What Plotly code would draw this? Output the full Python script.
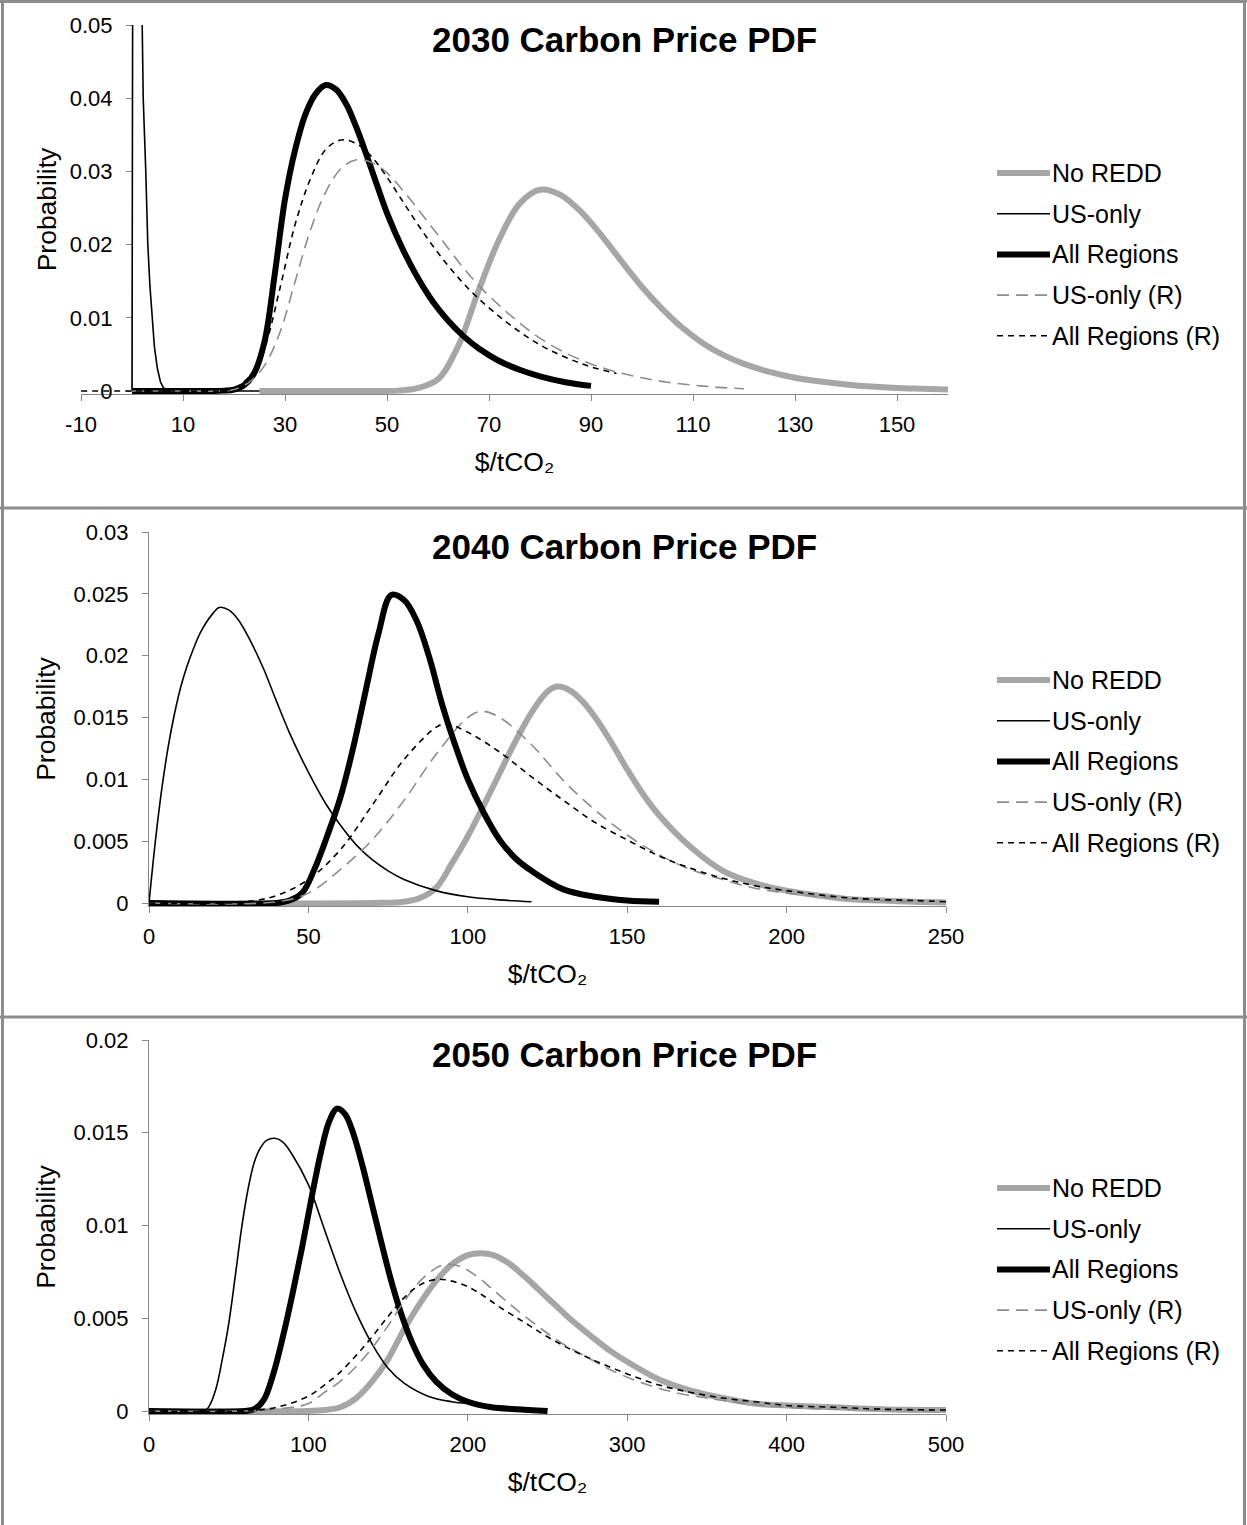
import plotly.graph_objects as go

W, H = 1247, 1525
FONT = "Liberation Sans, Arial, Helvetica, sans-serif"

# ---------------- 2030 ($/tCO2 vs probability) ----------------
x30_noredd = [25, 30, 35, 40, 44, 48, 52, 56, 60, 64, 68, 72, 76, 80, 84, 88, 92, 96, 100, 104, 108, 112, 116, 120,
              125, 130, 135, 140, 145, 150, 155, 160]
y30_noredd = [0, 0, 0, 0, 0, 0, 0.00005, 0.0004, 0.0016, 0.0062, 0.0138, 0.0207, 0.0256, 0.0275, 0.0268, 0.0245,
              0.0213, 0.0177, 0.0142, 0.0112, 0.0086, 0.0065, 0.0049, 0.0037, 0.0026, 0.0018, 0.0013, 0.0009, 0.0006,
              0.0004, 0.0003, 0.0002]
x30_us = [0, 0.6, 2.0, 2.2, 2.7, 3.1, 3.5, 3.9, 4.4, 5.0, 5.6, 6.2, 7, 8, 25]
y30_us = [0, 0.25, 0.050, 0.040, 0.030, 0.020, 0.0145, 0.0100, 0.0060, 0.0030, 0.0012, 0.0004, 0.0001, 0, 0]
x30_all = [0, 10, 16, 18, 20, 22, 24, 26, 28, 30, 32, 34, 36, 38, 40, 42, 44, 46, 48, 50, 53, 56, 59, 62, 65, 68, 72,
           76, 80, 85, 90]
y30_all = [0, 0, 0, 0.00005, 0.0002, 0.0008, 0.0025, 0.0068, 0.0160, 0.0262, 0.0330, 0.0378, 0.0406, 0.0418, 0.0412,
           0.0392, 0.0360, 0.0322, 0.0282, 0.0243, 0.0195, 0.0155, 0.0122, 0.0096, 0.0075, 0.0058, 0.0041, 0.0029,
           0.0020, 0.0012, 0.0007]
x30_usr = [0, 10, 17, 20, 23, 26, 29, 32, 35, 38, 41, 44, 47, 50, 53, 56, 59, 62, 65, 68, 72, 76, 80, 85, 90, 95, 100,
           105, 110, 115, 120]
y30_usr = [0, 0, 0, 0.0002, 0.0012, 0.0035, 0.0080, 0.0150, 0.0220, 0.0272, 0.0304, 0.0316, 0.0312, 0.0298, 0.0275,
           0.0249, 0.0222, 0.0195, 0.0168, 0.0144, 0.0117, 0.0093, 0.0072, 0.0052, 0.0037, 0.0026, 0.0018, 0.0012,
           0.0008, 0.0005, 0.0003]
x30_allr = [-10, 0, 10, 17, 20, 23, 26, 29, 32, 35, 38, 41, 44, 47, 50, 53, 56, 59, 62, 65, 68, 72, 76, 80, 85, 90, 95]
y30_allr = [0, 0, 0, 0, 0.0004, 0.0020, 0.0060, 0.0140, 0.0228, 0.0290, 0.0330, 0.0343, 0.0338, 0.0320, 0.0292,
            0.0260, 0.0228, 0.0198, 0.0171, 0.0147, 0.0126, 0.0102, 0.0081, 0.0063, 0.0046, 0.0033, 0.0024]

# ---------------- 2040 ----------------
x40_noredd = [0, 70, 80, 85, 90, 95, 100, 105, 110, 115, 120, 125, 128, 132, 136, 140, 145, 150, 155, 160, 170, 180,
              190, 200, 210, 220, 230, 240, 250]
y40_noredd = [0, 0, 0.0001, 0.0004, 0.0012, 0.0032, 0.0054, 0.0079, 0.0105, 0.0131, 0.0154, 0.0171, 0.0175, 0.0172,
              0.0163, 0.0150, 0.0130, 0.0108, 0.0088, 0.0071, 0.0045, 0.0026, 0.0016, 0.0010, 0.0006, 0.0003, 0.0002,
              0.0001, 0.00005]
x40_us = [0, 2, 4, 6, 8, 10, 12, 14, 16, 18, 20, 22, 25, 28, 32, 36, 40, 44, 48, 52, 56, 60, 65, 70, 75, 80, 90, 100,
          110, 120]
y40_us = [0, 0.0050, 0.0092, 0.0126, 0.0153, 0.0175, 0.0192, 0.0206, 0.0218, 0.0227, 0.0234, 0.0239, 0.0237, 0.0229,
          0.0211, 0.0189, 0.0163, 0.0138, 0.0116, 0.0096, 0.0078, 0.0063, 0.0047, 0.0035, 0.0026, 0.0019, 0.0010,
          0.0005, 0.00025, 0.0001]
x40_all = [0, 40, 44, 48, 52, 56, 60, 64, 68, 72, 76, 80, 84, 88, 92, 96, 100, 105, 110, 115, 120, 130, 140, 150, 160]
y40_all = [0, 0, 0.0002, 0.0008, 0.0028, 0.0055, 0.0085, 0.0125, 0.0172, 0.0218, 0.0249, 0.0245, 0.0228, 0.0198,
           0.0160, 0.0128, 0.0100, 0.0073, 0.0051, 0.0036, 0.0026, 0.0011, 0.0005, 0.0002, 0.0001]
x40_usr = [0, 40, 50, 60, 70, 80, 90, 100, 104.5, 110, 120, 130, 140, 150, 160, 170, 180, 190, 200, 220, 240]
y40_usr = [0, 0.0001, 0.0008, 0.0027, 0.0051, 0.0083, 0.0120, 0.0150, 0.0155, 0.0150, 0.0128, 0.0099, 0.0075,
           0.0055, 0.0039, 0.0027, 0.0019, 0.0012, 0.0008, 0.0003, 0.0001]
x40_allr = [0, 30, 40, 50, 60, 70, 80, 90, 93, 100, 110, 120, 130, 140, 150, 160, 170, 180, 190, 200, 220, 240, 250]
y40_allr = [0, 0.0001, 0.0006, 0.0019, 0.0043, 0.0079, 0.0116, 0.0142, 0.0145, 0.0138, 0.0122, 0.0102, 0.0083,
            0.0065, 0.0051, 0.0038, 0.0028, 0.0020, 0.0014, 0.0010, 0.0004, 0.0002, 0.0001]

# ---------------- 2050 ----------------
x50_noredd = [0, 100, 110, 120, 130, 140, 150, 160, 170, 180, 190, 200, 208, 216, 225, 235, 245, 255, 265, 275, 290,
              305, 320, 340, 360, 380, 400, 430, 460, 500]
y50_noredd = [0, 0, 0.00005, 0.0002, 0.0007, 0.0016, 0.0028, 0.0044, 0.0058, 0.0070, 0.0079, 0.0084, 0.0085, 0.0084,
              0.0080, 0.0073, 0.0065, 0.0057, 0.0049, 0.0042, 0.0032, 0.0024, 0.0017, 0.0011, 0.0007, 0.0004,
              0.0003, 0.0002, 0.0001, 0.00005]
x50_us = [0, 30, 35, 38, 42, 46, 50, 54, 58, 62, 66, 70, 74, 79, 84, 90, 100, 110, 120, 130, 140, 150, 160, 175, 190,
          200, 220, 250]
y50_us = [0, 0, 0, 0.0003, 0.0012, 0.0028, 0.0047, 0.0072, 0.0098, 0.0119, 0.0134, 0.0142, 0.0146, 0.0147, 0.0145,
          0.0138, 0.0122, 0.0098, 0.0074, 0.0053, 0.0036, 0.0023, 0.0015, 0.0008, 0.0005, 0.0004, 0.0002, 0.0001]
x50_all = [0, 60, 66, 72, 78, 84, 90, 96, 102, 108, 113, 118, 123, 128, 134, 140, 146, 152, 158, 165, 172, 180, 190,
           200, 215, 230, 250]
y50_all = [0, 0, 0.0001, 0.0006, 0.0020, 0.0040, 0.0063, 0.0088, 0.0115, 0.0140, 0.0156, 0.0163, 0.0160, 0.0150,
           0.0132, 0.0111, 0.0090, 0.0070, 0.0053, 0.0037, 0.0025, 0.0016, 0.0009, 0.0005, 0.0002, 0.0001, 0]
x50_usr = [0, 60, 80, 100, 110, 120, 130, 140, 150, 160, 170, 180, 186, 195, 205, 215, 230, 245, 260, 275, 290, 310,
           330, 350, 375, 400, 430, 460, 500]
y50_usr = [0, 0, 0.0001, 0.0004, 0.0010, 0.0016, 0.0024, 0.0034, 0.0046, 0.0059, 0.0070, 0.0077, 0.0079, 0.0078,
           0.0073, 0.0066, 0.0055, 0.0045, 0.0036, 0.0029, 0.0022, 0.0015, 0.0010, 0.0007, 0.0004, 0.0002, 0.0001,
           0.00005, 0]
x50_allr = [0, 60, 80, 100, 110, 120, 130, 140, 150, 160, 170, 181, 190, 200, 210, 220, 235, 250, 265, 280, 300, 320,
            340, 360, 380, 400, 430, 460, 500]
y50_allr = [0, 0, 0.0002, 0.0008, 0.0014, 0.0021, 0.0030, 0.0040, 0.0051, 0.0061, 0.0068, 0.0071, 0.0070, 0.0067,
            0.0062, 0.0056, 0.0048, 0.0040, 0.0033, 0.0027, 0.0020, 0.0014, 0.0010, 0.0007, 0.0005, 0.0003, 0.0002,
            0.0001, 0.00005]

series_names = ["No REDD", "US-only", "All Regions", "US-only (R)", "All Regions (R)"]

x_ticks_2030 = [-10, 10, 30, 50, 70, 90, 110, 130, 150]
y_ticks_2030 = [0, 0.01, 0.02, 0.03, 0.04, 0.05]
x_ticks_2040 = [0, 50, 100, 150, 200, 250]
y_ticks_2040 = [0, 0.005, 0.01, 0.015, 0.02, 0.025, 0.03]
x_ticks_2050 = [0, 100, 200, 300, 400, 500]
y_ticks_2050 = [0, 0.005, 0.01, 0.015, 0.02]

# line look of each series (shared by all three panels and the legend keys)
STYLE = {
    "No REDD": dict(color="#A6A6A6", width=6, dash="solid"),
    "US-only": dict(color="#000000", width=1.6, dash="solid"),
    "All Regions": dict(color="#000000", width=6, dash="solid"),
    "US-only (R)": dict(color="#8C8C8C", width=1.6, dash="12px,7px"),
    "All Regions (R)": dict(color="#000000", width=1.6, dash="6px,5px"),
}

panels = [
    dict(title="2030 Carbon Price PDF",
         data=[(x30_noredd, y30_noredd), (x30_us, y30_us), (x30_all, y30_all), (x30_usr, y30_usr), (x30_allr, y30_allr)],
         xr=(-10, 160), ymax=0.05, xt=x_ticks_2030, yt=y_ticks_2030, ytitle_standoff=4,
         box=dict(left=81, right=948, top=25, zero=391), yaxis_at_zero=True),
    dict(title="2040 Carbon Price PDF",
         data=[(x40_noredd, y40_noredd), (x40_us, y40_us), (x40_all, y40_all), (x40_usr, y40_usr), (x40_allr, y40_allr)],
         xr=(0, 250), ymax=0.03, xt=x_ticks_2040, yt=y_ticks_2040, ytitle_standoff=10,
         box=dict(left=149, right=946, top=532, zero=903), yaxis_at_zero=False),
    dict(title="2050 Carbon Price PDF",
         data=[(x50_noredd, y50_noredd), (x50_us, y50_us), (x50_all, y50_all), (x50_usr, y50_usr), (x50_allr, y50_allr)],
         xr=(0, 500), ymax=0.02, xt=x_ticks_2050, yt=y_ticks_2050, ytitle_standoff=10,
         box=dict(left=149, right=946, top=1040, zero=1411), yaxis_at_zero=False),
]


def fx(px):
    return px / W


def fy(py):
    return 1 - py / H


def fmt(v):
    s = ("%.3f" % v).rstrip("0").rstrip(".")
    return s if s else "0"


fig = go.Figure()
layout = dict(width=W, height=H, autosize=False,
              margin=dict(l=0, r=0, t=0, b=0, pad=0, autoexpand=False),
              paper_bgcolor="white", plot_bgcolor="white",
              showlegend=False, font=dict(family=FONT, color="#000000"))
shapes, annotations = [], []

AXIS_GREY = "#868686"
TICK_FONT = dict(size=22, color="#000000", family=FONT)
TITLE_FONT = dict(size=26.5, color="#000000", family=FONT)
PAD = 3  # px of room under the zero line so that thick lines lying on 0 are not cut in half

for i, p in enumerate(panels, start=1):
    b = p["box"]
    xa, ya = ("xaxis" if i == 1 else "xaxis%d" % i), ("yaxis" if i == 1 else "yaxis%d" % i)
    xref, yref = ("x" if i == 1 else "x%d" % i), ("y" if i == 1 else "y%d" % i)
    eps = PAD * p["ymax"] / (b["zero"] - b["top"])

    for name, (xs, ys) in zip(series_names, p["data"]):
        st = STYLE[name]
        shape = "linear" if (i == 1 and name == "US-only") else "spline"
        fig.add_trace(go.Scatter(x=xs, y=ys, mode="lines", name=name, xaxis=xref, yaxis=yref,
                                 line=dict(color=st["color"], width=st["width"], dash=st["dash"],
                                           shape=shape, smoothing=1.0),
                                 hoverinfo="x+y+name"))

    layout[xa] = dict(domain=[fx(b["left"]), fx(b["right"])], range=list(p["xr"]), anchor=yref, automargin=False,
                      tickmode="array", tickvals=p["xt"], ticktext=[str(v) for v in p["xt"]],
                      showline=True, linecolor=AXIS_GREY, linewidth=1, ticks="outside", ticklen=6,
                      tickcolor=AXIS_GREY, showgrid=False, zeroline=False, layer="below traces",
                      tickfont=TICK_FONT, ticklabelstandoff=5,
                      title=dict(text="$/tCO\u2082", font=TITLE_FONT, standoff=16))
    ydict = dict(domain=[fy(b["zero"] + PAD), fy(b["top"])], range=[-eps, p["ymax"]], automargin=False,
                 tickmode="array", tickvals=p["yt"], ticktext=[fmt(v) for v in p["yt"]],
                 showline=True, linecolor=AXIS_GREY, linewidth=1, ticks="outside", ticklen=6,
                 tickcolor=AXIS_GREY, showgrid=False, zeroline=False, layer="below traces",
                 tickfont=TICK_FONT, ticklabelstandoff=9,
                 title=dict(text="Probability", font=TITLE_FONT, standoff=p["ytitle_standoff"]))
    if p["yaxis_at_zero"]:
        x0_px = b["left"] + (0 - p["xr"][0]) / (p["xr"][1] - p["xr"][0]) * (b["right"] - b["left"])
        ydict.update(anchor="free", position=fx(x0_px))
    else:
        ydict.update(anchor=xref)
    layout[ya] = ydict

    # panel title
    annotations.append(dict(text="<b>%s</b>" % p["title"], x=fx(624), y=fy(b["top"] + 14), xref="paper", yref="paper",
                            xanchor="center", yanchor="middle", showarrow=False,
                            font=dict(size=35, family=FONT, color="#000000")))

    # legend keys
    leg_top = b["top"] + 148
    for k, name in enumerate(series_names):
        st = STYLE[name]
        yc = leg_top + 40.7 * k
        shapes.append(dict(type="line", xref="paper", yref="paper", x0=fx(997), x1=fx(1050), y0=fy(yc), y1=fy(yc),
                           line=dict(color=st["color"], width=st["width"], dash=st["dash"])))
        annotations.append(dict(text=name, x=fx(1050), y=fy(yc), xref="paper", yref="paper", xanchor="left",
                                yanchor="middle", showarrow=False, font=dict(size=25, family=FONT, color="#000000")))

# grey frames around the three panels
FRAME = dict(color="#8C8C8C", width=3)
for y_px in (1.5, 508, 1017):
    shapes.append(dict(type="line", xref="paper", yref="paper", x0=0, x1=1, y0=fy(y_px), y1=fy(y_px), line=FRAME))
for x_px in (2.5, 1244.5):
    shapes.append(dict(type="line", xref="paper", yref="paper", x0=fx(x_px), x1=fx(x_px), y0=0, y1=1, line=FRAME))

layout["shapes"] = shapes
layout["annotations"] = annotations
fig.update_layout(**layout)

# the page body gets no margin so the figure fills the window exactly
fig.write_html("out.html", post_script="document.body.style.margin='0px';document.body.style.overflow='hidden';")
